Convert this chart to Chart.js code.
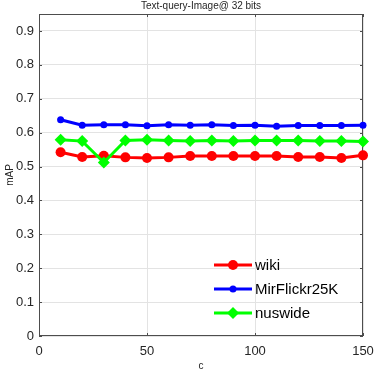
<!DOCTYPE html>
<html>
<head>
<meta charset="utf-8">
<script src="https://cdn.jsdelivr.net/npm/chart.js@4"></script>
<style>
html, body { margin: 0; padding: 0; background: #fff; }
#wrap { width: 374px; height: 371px; }
</style>
</head>
<body>
<div id="wrap"><canvas id="grafica"></canvas></div>
<script>
const cValores = [10, 20, 30, 40, 50, 60, 70, 80, 90, 100, 110, 120, 130, 140, 150];
const wiki = [0.542, 0.528, 0.532, 0.527, 0.525, 0.527, 0.531, 0.531, 0.531, 0.531, 0.531, 0.528, 0.528, 0.525, 0.533];
const mirFlickr = [0.638, 0.622, 0.623, 0.623, 0.620, 0.623, 0.622, 0.623, 0.621, 0.622, 0.619, 0.621, 0.621, 0.621, 0.622];
const nuswide = [0.579, 0.575, 0.512, 0.577, 0.579, 0.577, 0.575, 0.577, 0.575, 0.577, 0.577, 0.577, 0.575, 0.575, 0.574];
const xTicks = [0, 50, 100, 150];
const yTicks = [0, 0.1, 0.2, 0.3, 0.4, 0.5, 0.6, 0.7, 0.8, 0.9];
const titulo = 'Text-query-Image@ 32 bits';

const fuente = '"Liberation Sans", Arial, sans-serif';
const puntos = (vals) => cValores.map((c, i) => ({ x: c, y: vals[i] }));

// marco tipo matlab + marcas hacia dentro
const marco = {
    id: 'marco',
    beforeDatasetsDraw(chart) {
        const { ctx, chartArea: a, scales } = chart;
        ctx.save();
        ctx.strokeStyle = '#4d4d4d';
        ctx.lineWidth = 1;
        ctx.strokeRect(a.left + 0.5, a.top + 0.5, a.width - 1, a.height - 1);
        ctx.beginPath();
        xTicks.forEach(v => {
            const px = Math.round(scales.x.getPixelForValue(v)) + 0.5;
            ctx.moveTo(px, a.bottom); ctx.lineTo(px, a.bottom - 3);
            ctx.moveTo(px, a.top); ctx.lineTo(px, a.top + 3);
        });
        yTicks.forEach(v => {
            const py = Math.round(scales.y.getPixelForValue(v)) + 0.5;
            ctx.moveTo(a.left, py); ctx.lineTo(a.left + 3, py);
            ctx.moveTo(a.right, py); ctx.lineTo(a.right - 3, py);
        });
        ctx.stroke();
        // titulo centrado sobre el area de datos
        ctx.fillStyle = '#262626';
        ctx.font = '10px ' + fuente;
        ctx.textAlign = 'center';
        ctx.textBaseline = 'middle';
        ctx.fillText(titulo, (a.left + a.right) / 2, 6);
        ctx.restore();
    }
};

function marcador(ctx, estilo, r, x, y, color) {
    ctx.fillStyle = color;
    ctx.beginPath();
    if (estilo === 'rectRot') {
        ctx.moveTo(x, y - r); ctx.lineTo(x + r, y); ctx.lineTo(x, y + r); ctx.lineTo(x - r, y);
        ctx.closePath();
    } else {
        ctx.arc(x, y, r, 0, Math.PI * 2);
    }
    ctx.fill();
}

// leyenda dentro del area, abajo a la derecha
const leyenda = {
    id: 'leyenda',
    afterDraw(chart) {
        const { ctx, chartArea: a } = chart;
        const x0 = a.right - 149, x1 = a.right - 111;
        const filas = [a.bottom - 71, a.bottom - 47, a.bottom - 23];
        ctx.save();
        chart.data.datasets.forEach((ds, i) => {
            const y = filas[i];
            ctx.strokeStyle = ds.borderColor;
            ctx.lineWidth = 3;
            ctx.beginPath();
            ctx.moveTo(x0, y); ctx.lineTo(x1, y);
            ctx.stroke();
            marcador(ctx, ds.pointStyle, ds.pointRadius, (x0 + x1) / 2, y, ds.borderColor);
            ctx.fillStyle = '#000';
            ctx.font = '15px ' + fuente;
            ctx.textBaseline = 'middle';
            ctx.fillText(ds.label, x1 + 3, y + 1);
        });
        ctx.restore();
    }
};

const config = {
    type: 'line',
    data: {
        datasets: [
            {
                label: 'wiki',
                data: puntos(wiki),
                borderColor: '#ff0000',
                backgroundColor: '#ff0000',
                borderWidth: 3,
                pointStyle: 'circle',
                pointRadius: 5,
                pointBorderWidth: 0,
                order: 3,
                clip: false
            },
            {
                label: 'MirFlickr25K',
                data: puntos(mirFlickr),
                borderColor: '#0000ff',
                backgroundColor: '#0000ff',
                borderWidth: 3,
                pointStyle: 'circle',
                pointRadius: 3.5,
                pointBorderWidth: 0,
                order: 2,
                clip: false
            },
            {
                label: 'nuswide',
                data: puntos(nuswide),
                borderColor: '#00ff00',
                backgroundColor: '#00ff00',
                borderWidth: 3,
                pointStyle: 'rectRot',
                pointRadius: 6,
                pointBorderWidth: 0,
                order: 1,
                clip: false
            }
        ]
    },
    options: {
        responsive: true,
        maintainAspectRatio: false,
        animation: false,
        layout: { padding: { left: 0, right: 11, top: 14, bottom: 0 } },
        plugins: {
            legend: { display: false },
            tooltip: { enabled: false },
            title: { display: false }
        },
        scales: {
            x: {
                type: 'linear',
                min: 0,
                max: 150,
                afterBuildTicks: (s) => { s.ticks = xTicks.map(v => ({ value: v })); },
                afterFit: (s) => { s.height = 35; s.paddingRight = 0; s.paddingLeft = 0; },
                grid: { color: '#e3e3e3', drawTicks: false },
                border: { display: false },
                ticks: {
                    color: '#262626',
                    padding: 8,
                    maxRotation: 0,
                    font: { family: fuente, size: 13 }
                },
                title: {
                    display: true,
                    text: 'c',
                    color: '#262626',
                    font: { family: fuente, size: 10 },
                    padding: { top: 0, bottom: -1 }
                }
            },
            y: {
                min: 0,
                max: 0.95,
                afterBuildTicks: (s) => { s.ticks = yTicks.map(v => ({ value: v })); },
                afterFit: (s) => { s.width = 39; s.paddingTop = 0; s.paddingBottom = 0; },
                grid: { color: '#e3e3e3', drawTicks: false },
                border: { display: false },
                ticks: {
                    color: '#262626',
                    padding: 5,
                    callback: (v) => v === 0 ? '0' : v.toFixed(1),
                    font: { family: fuente, size: 13 }
                },
                title: {
                    display: true,
                    text: 'mAP',
                    color: '#262626',
                    font: { family: fuente, size: 10 },
                    padding: { top: 4, bottom: 0 }
                }
            }
        }
    },
    plugins: [marco, leyenda]
};

const grafica = new Chart(document.getElementById('grafica'), config);
</script>
</body>
</html>
